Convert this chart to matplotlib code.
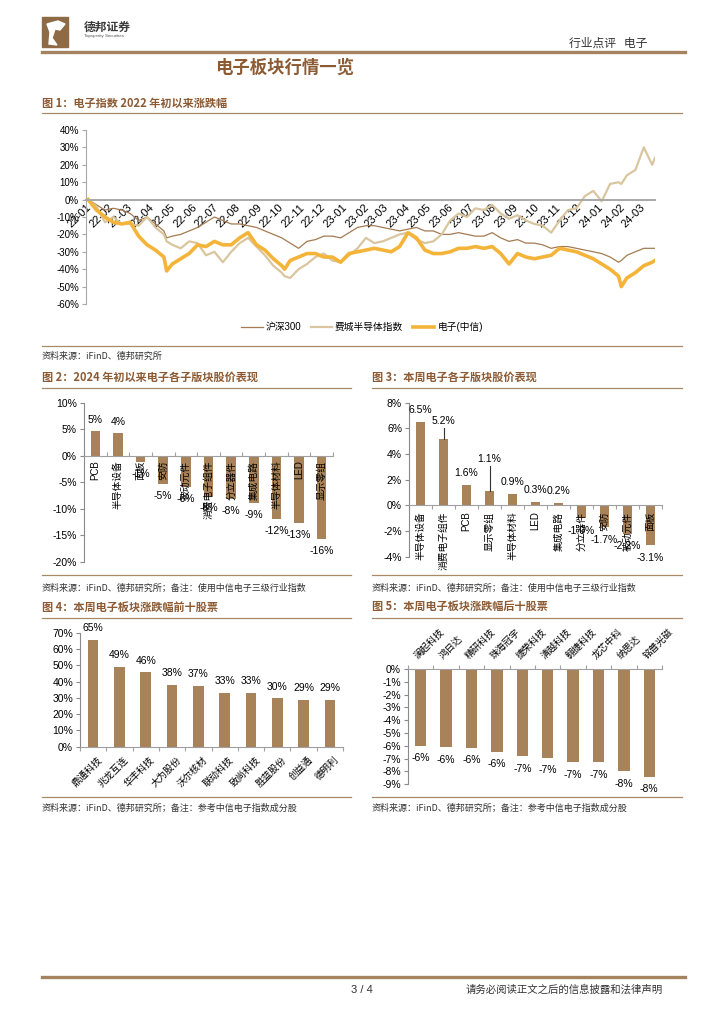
import matplotlib
matplotlib.use('Agg')
import matplotlib.pyplot as plt
import matplotlib.dates as mdates
from matplotlib.lines import Line2D
from matplotlib.patches import Rectangle, Polygon
from matplotlib.ticker import FuncFormatter
import numpy as np
import pandas as pd

# ──── page / style ─────────────────────────────────────────────
W, H = 724, 1024
CJK = 'Noto Sans CJK SC'
LAT = 'Liberation Sans'
plt.rcParams['font.family'] = [LAT, CJK, 'DejaVu Sans']

BROWN = '#8C5B34'
BAR = '#A8835A'
RULE = '#A88A68'

# ──── fig 1: index moves since 2022 (%) ────────────────────────
dates = ['2022-01-04', '2022-01-16', '2022-01-28', '2022-02-09', '2022-02-21',
         '2022-03-05', '2022-03-17', '2022-03-29', '2022-04-10', '2022-04-22',
         '2022-04-26', '2022-05-04', '2022-05-16', '2022-05-28', '2022-06-09',
         '2022-06-21', '2022-07-03', '2022-07-15', '2022-07-27', '2022-08-08',
         '2022-08-20', '2022-09-01', '2022-09-13', '2022-09-25', '2022-10-07',
         '2022-10-11', '2022-10-19', '2022-10-31', '2022-11-12', '2022-11-24',
         '2022-12-06', '2022-12-18', '2022-12-30', '2023-01-11', '2023-01-23',
         '2023-02-04', '2023-02-16', '2023-02-28', '2023-03-12', '2023-03-24',
         '2023-04-05', '2023-04-17', '2023-04-29', '2023-05-11', '2023-05-23',
         '2023-06-04', '2023-06-16', '2023-06-28', '2023-07-10', '2023-07-22',
         '2023-08-03', '2023-08-15', '2023-08-27', '2023-09-08', '2023-09-20',
         '2023-10-02', '2023-10-14', '2023-10-26', '2023-11-07', '2023-11-19',
         '2023-12-01', '2023-12-13', '2023-12-25', '2024-01-06', '2024-01-18',
         '2024-01-30', '2024-02-03', '2024-02-11', '2024-02-23', '2024-03-06',
         '2024-03-18', '2024-03-22']
hs300 = [0, -3, -6, -5, -6, -8, -12, -10, -14, -18,
         -22, -21, -20, -18, -16, -13, -10, -12, -14, -14,
         -15, -16, -18, -20, -22, -23, -25, -28, -24, -23,
         -21, -21, -22, -19, -16, -15, -15, -16, -17, -18,
         -17, -16, -18, -18, -20, -20, -19, -20, -21, -21,
         -19, -22, -24, -23, -25, -25, -26, -28, -27, -27,
         -28, -29, -30, -31, -33, -36, -35, -32, -30, -28,
         -28, -28]
sox = [0, -4, -13, -10, -14, -14, -15, -10, -16, -20,
       -24, -26, -28, -24, -25, -32, -30, -36, -30, -25,
       -22, -27, -32, -38, -42, -44, -45, -40, -37, -33,
       -31, -35, -36, -32, -28, -22, -25, -24, -22, -20,
       -19, -23, -25, -24, -20, -12, -8, -10, -5, -6,
       -3, -8, -11, -9, -12, -14, -15, -19, -12, -6,
       -5, 2, 5, -1, 9, 10, 9, 14, 17, 30,
       20, 24]
elec = [0, -6, -10, -13, -14, -13, -21, -26, -29, -33,
        -41, -37, -34, -31, -26, -27, -24, -26, -26, -22,
        -19, -26, -29, -34, -38, -40, -35, -33, -31, -31,
        -33, -33, -36, -31, -30, -29, -28, -29, -30, -27,
        -19, -22, -29, -31, -31, -30, -28, -28, -27, -28,
        -27, -31, -37, -31, -33, -34, -33, -32, -28, -29,
        -30, -32, -34, -37, -40, -44, -50, -45, -42, -38,
        -36, -35]

# ──── fig 2: sub-sectors since start of 2024 (%) ───────────────
fig2_names = ['PCB', '半导体设备', '面板', '安防', '被动元件', '消费电子组件',
              '分立器件', '集成电路', '半导体材料', 'LED', '显示零组']
fig2_vals = [4.6, 4.2, -1.2, -5.4, -5.9, -7.7, -8.2, -9.0, -11.9, -12.7, -15.7]

# ──── fig 3: sub-sectors this week (%) ─────────────────────────
fig3_names = ['半导体设备', '消费电子组件', 'PCB', '显示零组', '半导体材料', 'LED',
              '集成电路', '分立器件', '安防', '被动元件', '面板']
fig3_vals = [6.5, 5.2, 1.6, 1.1, 0.9, 0.3, 0.2, -1.0, -1.7, -2.2, -3.1]

# ──── fig 4 / 5: top & bottom ten stocks this week (%) ─────────
fig4_names = ['鼎通科技', '兆龙互连', '华丰科技', '大为股份', '沃尔核材',
              '联动科技', '致尚科技', '胜蓝股份', '创益通', '德明利']
fig4_vals = [65.4, 48.8, 45.6, 37.8, 37.1, 33.1, 32.8, 29.7, 28.6, 28.6]

fig5_names = ['澜起科技', '鸿日达', '精研科技', '珠海冠宇', '捷荣科技',
              '清越科技', '翱捷科技', '龙芯中科', '纳思达', '铭普光磁']
fig5_vals = [-6.0, -6.1, -6.15, -6.46, -6.82, -6.93, -7.29, -7.29, -7.97, -8.41]


# ═══════════════════════════════════════════════════════════════
fig = plt.figure(figsize=(W / 100, H / 100), dpi=100)


def fx(x):
    return x / W


def fy(y):
    return 1 - y / H


def px_axes(l, t, r, b):
    return fig.add_axes([l / W, 1 - b / H, (r - l) / W, (b - t) / H])


def rule(y, x0, x1, lw=0.9, color=RULE):
    fig.add_artist(Line2D([fx(x0), fx(x1)], [fy(y), fy(y)], lw=lw,
                          color=color, transform=fig.transFigure))


def txt(x, y, s, size, **kw):
    kw.setdefault('family', [CJK])
    kw.setdefault('va', 'center')
    fig.text(fx(x), fy(y), s, fontsize=size, **kw)


def pct(v, p):
    return f'{v:.0f}%'


def bar_axis(ax, n, ylim, yticks, xdir):
    ax.set_xlim(-0.5, n - 0.5)
    ax.set_ylim(*ylim)
    ax.set_yticks(yticks)
    ax.yaxis.set_major_formatter(FuncFormatter(pct))
    for s in ('top', 'right'):
        ax.spines[s].set_visible(False)
    ax.spines['left'].set_color('#8A8A8A')
    ax.spines['left'].set_linewidth(0.8)
    ax.spines['bottom'].set_position(('data', 0))
    ax.spines['bottom'].set_color('#A0A0A0')
    ax.spines['bottom'].set_linewidth(0.8)
    ax.set_xticks(np.arange(n + 1) - 0.5)
    ax.set_xticklabels([])
    ax.tick_params(axis='x', length=3, direction=xdir, color='#A0A0A0')
    ax.tick_params(axis='y', labelsize=7.5, length=3, color='#8A8A8A', pad=2)
    ax.patch.set_alpha(0)


# ──── header ──────────────────────────────────────────────────
fig.add_artist(Rectangle((fx(42), fy(47)), 26 / W, 30 / H, color='#8E6A45',
                         transform=fig.transFigure))
fig.add_artist(Polygon([(fx(47), fy(24)), (fx(58), fy(21)), (fx(65), fy(24)),
                        (fx(60), fy(30)), (fx(55), fy(29)), (fx(52), fy(38)),
                        (fx(57), fy(45)), (fx(49), fy(44)), (fx(50), fy(32))],
                       closed=True, color='white', transform=fig.transFigure))
txt(84, 27, '德邦证券', 8.5, weight='bold', color='#3A3A3A')
txt(84, 36, 'Topsperity Securities', 3.2, family=[LAT], color='#555555')
txt(569, 43, '行业点评   电子', 8.5, color='#333333')
rule(52, 42, 685, lw=2.4, color='#A58360')
txt(285, 68, '电子板块行情一览', 12.5, ha='center', weight='bold', color=BROWN)

# ──── fig 1 ───────────────────────────────────────────────────
txt(42, 103, '图 1：电子指数 2022 年初以来涨跌幅', 8, weight='bold', color=BROWN)
rule(113, 42, 682)
ax1 = px_axes(86, 130, 655, 304)
d = pd.to_datetime(dates)
l1, = ax1.plot(d, hs300, color='#A47B52', lw=0.9)
l2, = ax1.plot(d, sox, color='#D9C69F', lw=1.6)
l3, = ax1.plot(d, elec, color='#F4B43A', lw=2.6)
ax1.set_ylim(-60, 40)
ax1.set_yticks(range(-60, 41, 10))
ax1.yaxis.set_major_formatter(FuncFormatter(pct))
ax1.set_xlim(pd.Timestamp('2022-01-01'), pd.Timestamp('2024-03-22'))
ax1.xaxis.set_major_locator(mdates.MonthLocator())
ax1.xaxis.set_major_formatter(mdates.DateFormatter('%y-%m'))
for s in ('top', 'right'):
    ax1.spines[s].set_visible(False)
ax1.spines['left'].set_color('#A8A8A8')
ax1.spines['bottom'].set_position(('data', 0))
ax1.spines['bottom'].set_color('#A8A8A8')
ax1.spines['bottom'].set_linewidth(1.4)
ax1.tick_params(axis='y', labelsize=7, length=3, color='#A8A8A8', pad=2)
ax1.tick_params(axis='x', labelsize=8, length=0, pad=2)
plt.setp(ax1.get_xticklabels(), rotation=45, ha='right', rotation_mode='anchor')
ax1.patch.set_alpha(0)
fig.legend([l1, l2, l3], ['沪深300', '费城半导体指数', '电子(中信)'],
           loc='center', bbox_to_anchor=(fx(362), fy(327)), ncol=3,
           frameon=False, handlelength=2.2, handletextpad=0.3,
           columnspacing=1.0, prop={'family': [LAT, CJK], 'size': 7})
rule(346, 42, 682)
txt(42, 356, '资料来源：iFinD、德邦研究所', 6.5, color='#333333')

# ──── fig 2 ───────────────────────────────────────────────────
txt(42, 377, '图 2：2024 年初以来电子各子版块股价表现', 8, weight='bold', color=BROWN)
rule(388, 42, 351)
ax2 = px_axes(84, 402.7, 333, 561.7)
x = np.arange(len(fig2_vals))
ax2.bar(x, fig2_vals, width=0.42, color=BAR)
bar_axis(ax2, len(fig2_vals), (-20, 10), range(-20, 11, 5), 'in')
for i, (n, v) in enumerate(zip(fig2_names, fig2_vals)):
    ax2.annotate(f'{v:.0f}%', (i, v), xytext=(0, 8.5 if v > 0 else -8.5),
                 textcoords='offset points', ha='center', va='center', fontsize=7.5)
    ax2.annotate(n, (i, 0), xytext=(0, -3.5), textcoords='offset points',
                 rotation=90, ha='center', va='top', fontsize=7,
                 family=[LAT, CJK], annotation_clip=False)
rule(575, 42, 351)
txt(42, 588, '资料来源：iFinD、德邦研究所；备注：使用中信电子三级行业指数', 6.5, color='#333333')

# ──── fig 3 ───────────────────────────────────────────────────
txt(372, 377, '图 3：本周电子各子版块股价表现', 8, weight='bold', color=BROWN)
rule(388, 372, 682)
ax3 = px_axes(409, 402.7, 662, 556.7)
x = np.arange(len(fig3_vals))
ax3.bar(x, fig3_vals, width=0.43, color=BAR)
bar_axis(ax3, len(fig3_vals), (-4, 8), range(-4, 9, 2), 'out')
leader = {1: 6.6, 3: 3.6}     # labels lifted above the bar with a leader line
for i, (n, v) in enumerate(zip(fig3_names, fig3_vals)):
    if i in leader:
        ax3.text(i, leader[i], f'{v:.1f}%', ha='center', va='center', fontsize=7.5)
        ax3.plot([i, i], [v, leader[i] - 0.55], color='#333333', lw=0.8)
    else:
        ax3.annotate(f'{v:.1f}%', (i, v), xytext=(0, 8.5 if v > 0 else -9),
                     textcoords='offset points', ha='center', va='center', fontsize=7.5)
    ax3.annotate(n, (i, 0), xytext=(0, -4.5), textcoords='offset points',
                 rotation=90, ha='center', va='top', fontsize=7,
                 family=[LAT, CJK], annotation_clip=False)
rule(575, 372, 682)
txt(372, 588, '资料来源：iFinD、德邦研究所；备注：使用中信电子三级行业指数', 6.5, color='#333333')

# ──── fig 4 ───────────────────────────────────────────────────
txt(42, 607, '图 4：本周电子板块涨跌幅前十股票', 8, weight='bold', color=BROWN)
rule(618, 42, 351)
ax4 = px_axes(80, 632.7, 343, 746.7)
x = np.arange(len(fig4_vals))
ax4.bar(x, fig4_vals, width=0.4, color=BAR)
bar_axis(ax4, len(fig4_vals), (0, 70), range(0, 71, 10), 'out')
for i, (n, v) in enumerate(zip(fig4_names, fig4_vals)):
    ax4.annotate(f'{v:.0f}%', (i, v), xytext=(0, 8.5), textcoords='offset points',
                 ha='center', va='center', fontsize=7.5)
    ax4.annotate(n, (i, 0), xytext=(3, -6), textcoords='offset points',
                 rotation=45, ha='right', va='top', rotation_mode='anchor',
                 fontsize=6.8, family=[CJK], annotation_clip=False)
rule(797, 42, 351)
txt(42, 808, '资料来源：iFinD、德邦研究所；备注：参考中信电子指数成分股', 6.5, color='#333333')

# ──── fig 5 ───────────────────────────────────────────────────
txt(372, 607, '图 5：本周电子板块涨跌幅后十股票', 8, weight='bold', color=BROWN)
rule(618, 372, 682)
ax5 = px_axes(408, 669, 662, 784.3)
x = np.arange(len(fig5_vals))
ax5.bar(x, fig5_vals, width=0.45, color=BAR)
bar_axis(ax5, len(fig5_vals), (-9, 0), range(-9, 1, 1), 'in')
for i, (n, v) in enumerate(zip(fig5_names, fig5_vals)):
    ax5.annotate(f'{v:.0f}%', (i, v), xytext=(0, -9), textcoords='offset points',
                 ha='center', va='center', fontsize=7.5)
    ax5.annotate(n, (i, 0), xytext=(-1, 6), textcoords='offset points',
                 rotation=45, ha='left', va='bottom', rotation_mode='anchor',
                 fontsize=6.8, family=[CJK], annotation_clip=False)
rule(797, 372, 682)
txt(372, 808, '资料来源：iFinD、德邦研究所；备注：参考中信电子指数成分股', 6.5, color='#333333')

# ──── footer ──────────────────────────────────────────────────
rule(977, 42, 685, lw=2.4, color='#A58360')
txt(362, 990, '3 / 4', 8, ha='center', family=[LAT], color='#333333')
txt(466, 990, '请务必阅读正文之后的信息披露和法律声明', 7.5, color='#333333')

fig.savefig('out.png', dpi=100)
